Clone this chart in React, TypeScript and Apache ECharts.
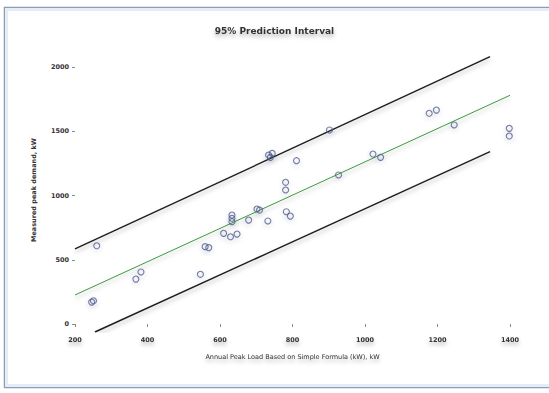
import React, { useEffect, useRef } from "react";
import * as echarts from "echarts";

// Observed points: predicted peak (x) vs measured peak (y)
const pointX = [
  260, 251, 246, 368, 382, 546, 559, 569, 610, 629, 647, 633, 633, 633, 679,
  702, 709, 732, 734, 744, 739, 811, 781, 781, 783, 794, 902, 927, 1022, 1043,
  1177, 1197, 1246, 1398, 1398,
];
const pointY = [
  609, 181, 171, 350, 405, 387, 602, 594, 706, 679, 700, 848, 823, 796, 809,
  895, 887, 802, 1315, 1328, 1297, 1271, 1103, 1043, 874, 840, 1510, 1160, 1323,
  1297, 1640, 1665, 1549, 1523, 1463,
];

// Regression line and 95% prediction bounds (end points)
const fitX = [200, 1400];
const fitY = [226, 1780];
const upperX = [200, 1345];
const upperY = [584, 2080];
const lowerX = [255, 1345];
const lowerY = [-62, 1341];

const xTicks = [200, 400, 600, 800, 1000, 1200, 1400];
const yTicks = [0, 500, 1000, 1500, 2000];

const chartTitle = "95% Prediction Interval";
const xTitle = "Annual Peak Load Based on Simple Formula (kW), kW";
const yTitle = "Measured peak demand, kW";

const FONT = "DejaVu Sans, Liberation Sans, sans-serif";

export default function App() {
  const ref = useRef<HTMLDivElement>(null);

  useEffect(() => {
    document.body.style.margin = "0";
    document.body.style.background = "#ffffff";
    if (!ref.current) return;
    const chart = echarts.init(ref.current, undefined, { renderer: "svg" });

    const pairs = (xs: number[], ys: number[]) => xs.map((x, i) => [x, ys[i]]);
    const shadow = {
      shadowColor: "rgba(0,0,0,0.28)",
      shadowBlur: 4,
      shadowOffsetY: 3,
    };
    const textShadow = {
      textShadowColor: "rgba(0,0,0,0.3)",
      textShadowBlur: 4,
      textShadowOffsetY: 3,
    };

    chart.setOption({
      animation: false,
      backgroundColor: "#ffffff",
      graphic: [
        {
          type: "rect",
          z: -10,
          silent: true,
          shape: { x: 4.5, y: 7.5, width: 570, height: 380 },
          style: { fill: "#ffffff", stroke: "#8f9cb2", lineWidth: 1.5 },
        },
        {
          type: "rect",
          z: -9,
          silent: true,
          shape: { x: 6.5, y: 9.5, width: 566, height: 376 },
          style: { fill: "none", stroke: "#e4ecf6", lineWidth: 3 },
        },
      ],
      title: {
        text: chartTitle,
        left: "center",
        top: 21,
        textStyle: {
          fontFamily: FONT,
          fontSize: 9,
          fontWeight: "bold",
          color: "#333333",
          ...textShadow,
        },
      },
      grid: { left: 75, right: 39, top: 48, bottom: 61 },
      xAxis: {
        type: "value",
        min: 200,
        max: 1400,
        name: xTitle,
        nameLocation: "middle",
        nameGap: 21,
        nameTextStyle: { fontFamily: FONT, fontSize: 6.5, color: "#333", ...textShadow },
        axisLine: {
          show: true,
          lineStyle: { color: "#8a8a8a", width: 1.5, ...shadow },
        },
        axisTick: {
          show: true,
          length: 3,
          customValues: xTicks,
          lineStyle: { color: "#8a8a8a" },
        },
        axisLabel: {
          customValues: xTicks,
          formatter: (v: number) => String(v),
          fontFamily: FONT,
          fontSize: 6.5,
          fontWeight: "bold",
          color: "#333",
          margin: 4,
          ...textShadow,
        },
        splitLine: { show: false },
      },
      yAxis: {
        type: "value",
        min: -62,
        max: 2148,
        name: yTitle,
        nameLocation: "middle",
        nameGap: 38,
        nameRotate: 90,
        nameTextStyle: { fontFamily: FONT, fontSize: 6.5, fontWeight: "bold", color: "#333" },
        axisLine: {
          show: true,
          lineStyle: { color: "#8a8a8a", width: 1.5, ...shadow },
        },
        axisTick: {
          show: true,
          length: 3,
          customValues: yTicks,
          lineStyle: { color: "#8a8a8a" },
        },
        axisLabel: {
          customValues: yTicks,
          formatter: (v: number) => String(v),
          fontFamily: FONT,
          fontSize: 6.5,
          fontWeight: "bold",
          color: "#333",
          margin: 6,
        },
        splitLine: { show: false },
      },
      series: [
        {
          type: "line",
          data: pairs(upperX, upperY),
          symbol: "none",
          lineStyle: { color: "#1e1e1e", width: 1.4, ...shadow },
          z: 3,
        },
        {
          type: "line",
          data: pairs(lowerX, lowerY),
          symbol: "none",
          lineStyle: { color: "#1e1e1e", width: 1.4, ...shadow },
          z: 3,
        },
        {
          type: "line",
          data: pairs(fitX, fitY),
          symbol: "none",
          lineStyle: { color: "#3c9a3c", width: 1, ...shadow },
          z: 4,
        },
        {
          type: "scatter",
          data: pairs(pointX, pointY),
          symbol: "circle",
          symbolSize: 6,
          itemStyle: {
            color: "rgba(255,255,255,0)",
            borderColor: "#4f5c8c",
            borderWidth: 1.1,
            shadowColor: "rgba(60,70,120,0.3)",
            shadowBlur: 4,
            shadowOffsetY: 2,
          },
          z: 5,
        },
      ],
    });

    return () => chart.dispose();
  }, []);

  return <div ref={ref} style={{ width: 549, height: 393 }} />;
}
